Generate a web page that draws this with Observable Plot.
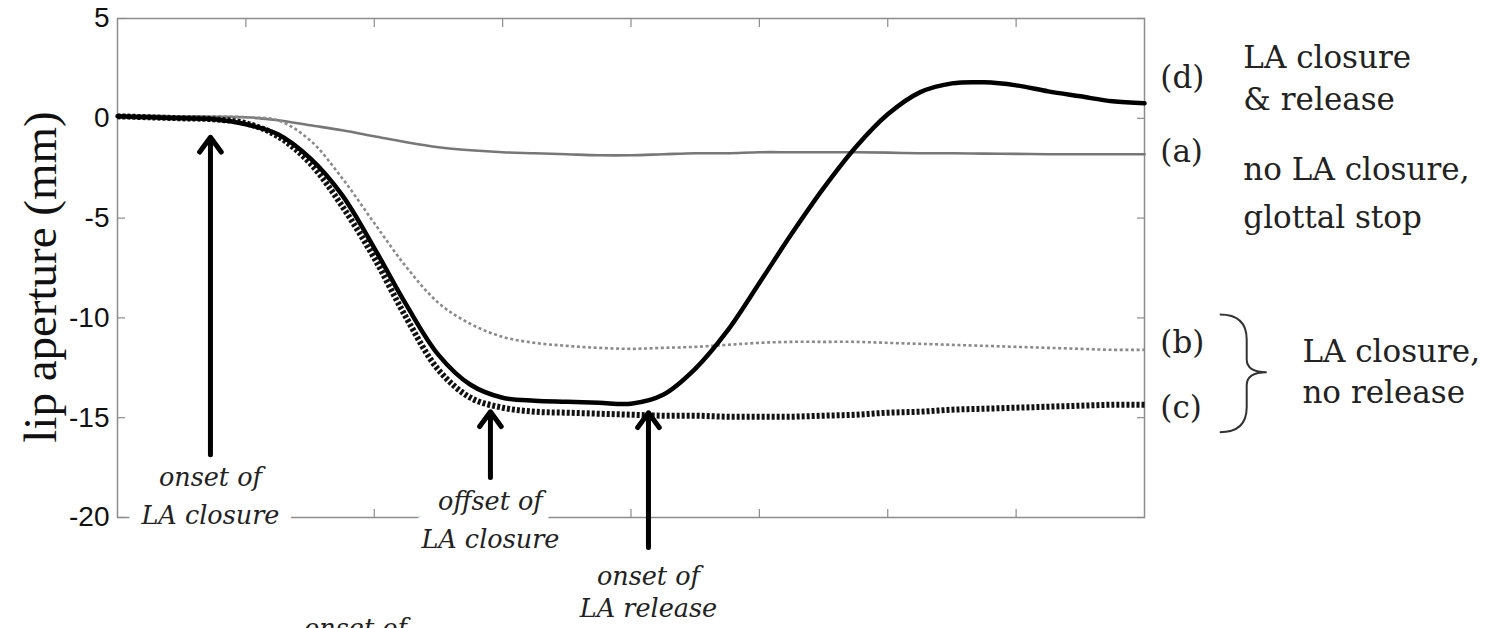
<!DOCTYPE html>
<html><head><meta charset="utf-8">
<script src="https://cdn.jsdelivr.net/npm/d3@7"></script>
<script src="https://cdn.jsdelivr.net/npm/@observablehq/plot@0.6"></script>
<style>html,body{margin:0;padding:0;background:#fff;} svg{display:block;}</style>
</head><body><div id="chart"></div>
<script>
// time (arbitrary units, 8 tick intervals)
const time = [0,0.25,0.5,0.75,1,1.25,1.5,1.75,2,2.25,2.5,2.75,3,3.25,3.5,3.75,4,4.25,4.5,4.75,5,5.25,5.5,5.75,6,6.25,6.5,6.75,7,7.25,7.5,7.75,8];
// (a) no LA closure, glottal stop
const seriesA = [0.15,0.12,0.1,0.08,0.05,-0.1,-0.35,-0.6,-0.9,-1.2,-1.45,-1.6,-1.7,-1.75,-1.8,-1.85,-1.85,-1.8,-1.75,-1.75,-1.7,-1.7,-1.7,-1.7,-1.72,-1.75,-1.75,-1.77,-1.78,-1.8,-1.8,-1.8,-1.8];
// (b) LA closure, no release
const seriesB = [0.1,0.1,0.1,0.1,0.05,-0.1,-1.1,-3.0,-5.25,-7.45,-9.25,-10.3,-10.95,-11.25,-11.4,-11.5,-11.55,-11.5,-11.45,-11.35,-11.25,-11.2,-11.2,-11.2,-11.25,-11.3,-11.35,-11.4,-11.45,-11.5,-11.55,-11.6,-11.6];
// (c) LA closure, no release
const seriesC = [0.1,0.05,0,-0.05,-0.25,-0.9,-2.25,-4.4,-7.0,-10.0,-12.6,-14.0,-14.5,-14.7,-14.75,-14.8,-14.85,-14.9,-14.9,-14.95,-14.95,-14.95,-14.9,-14.85,-14.75,-14.7,-14.6,-14.55,-14.5,-14.45,-14.4,-14.35,-14.35];
// (d) LA closure & release
const seriesD = [0.1,0.05,0,-0.05,-0.3,-0.8,-2.0,-3.85,-6.5,-9.35,-11.85,-13.35,-14.0,-14.15,-14.2,-14.25,-14.3,-13.85,-12.55,-10.65,-8.25,-5.8,-3.5,-1.45,0.2,1.3,1.75,1.8,1.65,1.35,1.1,0.85,0.75];

const yTicks = [5,0,-5,-10,-15,-20];
const xTicks = [1,2,3,4,5,6,7];

// event arrows: time of event, tail value, tip value
const arrowTimes = [0.724, 2.905, 4.136];
const arrowTails = [-16.85, -18.0, -21.5];
const arrowTips = [-0.95, -14.7, -14.75];

const seriesKeys = ["(d)", "(a)", "(b)", "(c)"];

const mk = (vals) => time.map((t, i) => ({t, v: vals[i]}));
const arrows = arrowTimes.map((t, i) => ({t, y1: arrowTails[i], y2: arrowTips[i]}));

// annotation text
const eventLabels = [
  {t: 0.724, y: -18.0, text: "onset of"},
  {t: 0.724, y: -19.9, text: "LA closure"},
  {t: 2.905, y: -19.2, text: "offset of"},
  {t: 2.905, y: -21.1, text: "LA closure"},
  {t: 4.136, y: -22.95, text: "onset of"},
  {t: 4.136, y: -24.6, text: "LA release"},
  {t: 1.854, y: -25.6, text: "onset of"}
];
const keyLabels = [
  {t: 8.123, y: 2.0, text: seriesKeys[0]},
  {t: 8.123, y: -1.7, text: seriesKeys[1]},
  {t: 8.123, y: -11.25, text: seriesKeys[2]},
  {t: 8.123, y: -14.5, text: seriesKeys[3]}
];
const descLabels = [
  {t: 8.77, y: 3.0, text: "LA closure"},
  {t: 8.77, y: 0.9, text: "& release"},
  {t: 8.77, y: -2.6, text: "no LA closure,"},
  {t: 8.77, y: -5.0, text: "glottal stop"},
  {t: 9.23, y: -11.7, text: "LA closure,"},
  {t: 9.23, y: -13.75, text: "no release"}
];

const serif = "'DejaVu Serif', 'Liberation Serif', serif";
const evtOpts = {x: "t", y: "y", text: "text", fontFamily: serif, fontStyle: "italic", fontSize: 25.5};

const plot = Plot.plot({
  width: 1491,
  height: 628,
  marginLeft: 117, marginRight: 347, marginTop: 18, marginBottom: 111,
  x: {domain: [0, 8], axis: null},
  y: {domain: [-20, 5], axis: null},
  style: {background: "white", fontFamily: "'Liberation Sans', Arial, sans-serif", overflow: "visible"},
  marks: [
    Plot.frame({stroke: "#8c8c8c", strokeWidth: 1.5}),
    Plot.axisY(yTicks, {anchor: "left", tickSize: 0, tickPadding: 8, fontSize: 28, fill: "#111", label: null, tickFormat: d => String(d)}),
    Plot.axisY(yTicks, {anchor: "left", tickSize: -8, fill: "none", stroke: "#8c8c8c", strokeWidth: 1.2}),
    Plot.axisY(yTicks, {anchor: "right", tickSize: -8, fill: "none", stroke: "#8c8c8c", strokeWidth: 1.2}),
    Plot.axisX(xTicks, {anchor: "bottom", tickSize: -8, fill: "none", stroke: "#8c8c8c", strokeWidth: 1.2}),
    Plot.axisX(xTicks, {anchor: "top", tickSize: -8, fill: "none", stroke: "#8c8c8c", strokeWidth: 1.2}),
    Plot.line(mk(seriesA), {x: "t", y: "v", stroke: "#777", strokeWidth: 2.6, curve: "catmull-rom"}),
    Plot.line(mk(seriesB), {x: "t", y: "v", stroke: "#8a8a8a", strokeWidth: 2.6, strokeDasharray: "3,2.6", strokeLinecap: "butt", curve: "catmull-rom"}),
    Plot.line(mk(seriesC), {x: "t", y: "v", stroke: "#111", strokeWidth: 6, strokeDasharray: "3,2", strokeLinecap: "butt", curve: "catmull-rom"}),
    Plot.line(mk(seriesD), {x: "t", y: "v", stroke: "#000", strokeWidth: 4.5, curve: "catmull-rom"}),
    Plot.arrow(arrows, {x1: "t", x2: "t", y1: "y1", y2: "y2", stroke: "#000", strokeWidth: 5, headLength: 5.5, headAngle: 72}),
    Plot.text(eventLabels, {...evtOpts, fill: "white", stroke: "white", strokeWidth: 26}),
    Plot.text(eventLabels, {...evtOpts, fill: "#222"}),
    Plot.text(keyLabels, {x: "t", y: "y", text: "text", textAnchor: "start", fontFamily: serif, fontSize: 31, fill: "#222"}),
    Plot.text(descLabels, {x: "t", y: "y", text: "text", textAnchor: "start", fontFamily: serif, fontSize: 31, fill: "#222"}),
    Plot.text(["lip aperture (mm)"], {frameAnchor: "left", textAnchor: "middle", rotate: -90, dx: -77, dy: 9, fontFamily: "'Liberation Serif', serif", fontSize: 47, fill: "#111"})
  ]
});

// curly brace grouping (b) and (c)
const sx = plot.scale("x"), sy = plot.scale("y");
const X = v => sx.apply(v), Y = v => sy.apply(v);
const bTop = -9.85, bBot = -15.75, bMid = -12.75, xl = 8.59, xs = 8.80, xt = 8.956;
const p = `M${X(xl)},${Y(bTop)} Q${X(xs)},${Y(bTop)} ${X(xs)},${Y(bTop - 1.25)} L${X(xs)},${Y(bMid + 0.65)} Q${X(xs)},${Y(bMid)} ${X(xt)},${Y(bMid)} Q${X(xs)},${Y(bMid)} ${X(xs)},${Y(bMid - 0.65)} L${X(xs)},${Y(bBot + 1.25)} Q${X(xs)},${Y(bBot)} ${X(xl)},${Y(bBot)}`;
d3.select(plot).append("path").attr("d", p).attr("fill", "none").attr("stroke", "#333").attr("stroke-width", 2);

document.getElementById("chart").appendChild(plot);
</script>
</body></html>
